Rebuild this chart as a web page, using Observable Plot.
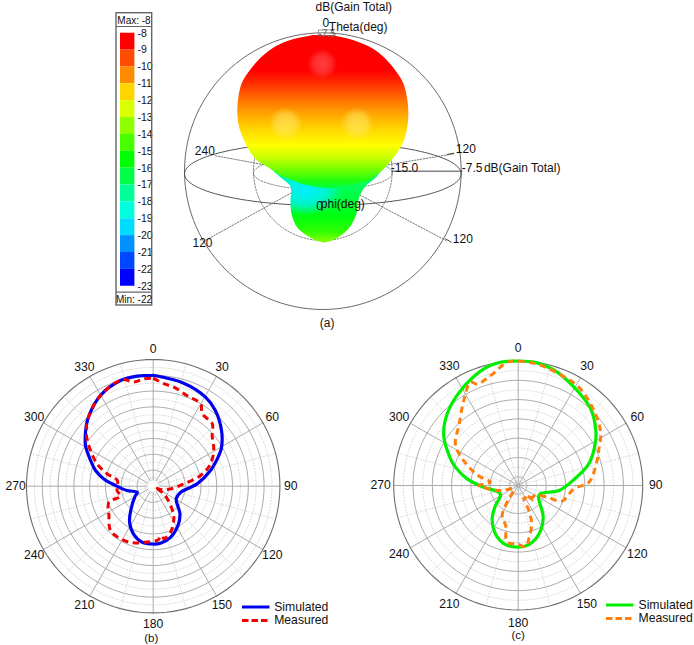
<!DOCTYPE html>
<html><head><meta charset="utf-8">
<script src="https://cdn.jsdelivr.net/npm/d3@7"></script>
<script src="https://cdn.jsdelivr.net/npm/@observablehq/plot@0.6"></script>
<style>
html,body{margin:0;padding:0;background:#fff;width:694px;height:645px;overflow:hidden;font-family:"Liberation Sans",Arial,sans-serif}
.p{position:absolute}
svg{overflow:visible;background:transparent}
.lg{position:absolute;font-size:12.2px;color:#111;line-height:14px;white-space:nowrap}
.lg svg{position:absolute;left:0;top:0}
.lg span{position:absolute;top:0}
</style></head><body>
<div id="bar" class="p" style="left:100px;top:0"></div>
<div id="a" class="p" style="left:0;top:0"></div>
<div id="b" class="p" style="left:0;top:335px"></div>
<div id="c" class="p" style="left:350px;top:335px"></div>
<script>
// ---------- colour bar ----------
const barValues = [-8,-9,-10,-11,-12,-13,-14,-15,-16,-17,-18,-19,-20,-21,-22];
const barColors = ["#ff0000","#ff4c00","#ff8c00","#ffd500","#d9ff00","#8cff00","#48ff00","#00ff00","#00ff48","#00ff96","#00ffdc","#00dcff","#0090ff","#0048ff","#0000ff"];
const barTicks = [-8,-9,-10,-11,-12,-13,-14,-15,-16,-17,-18,-19,-20,-21,-22,-23];

// ---------- 3D lobe outline (rows: level, left, right) ----------
const upperLevel = [105,115,130,150,180,210,250,300,340,380,420,450,480,510,525,540,555,565];
const upperLeft  = [640,590,545,510,475,450,425,414,412,417,432,447,470,518,540,575,620,680];
const upperRight = [695,740,785,825,860,885,910,922,925,922,912,897,875,848,828,808,750,690];
const lowerLevel = [505,535,560,600,640,680,705,720,728];
const lowerLeft  = [510,545,572,572,574,590,618,645,672];
const lowerRight = [850,825,795,775,770,750,725,700,672];

// ---------- polar panel (b) ----------
const bSimAngle = [0,16.5,30.4,39.4,50.8,60.6,65,74.7,87,102.4,118.7,136,147.8,161.3,172.7,180,191,201.8,213.4,224,242,249,260.6,271,278.4,285.2,292.3,301,308.6,315.9,329.8,342.8,351.7,360];
const bSimDb    = [-5,-6.1,-7.4,-9.1,-12.2,-15.3,-17.2,-21.3,-26.2,-31.2,-31.8,-27.9,-25.4,-23,-21.9,-21.8,-22,-23.6,-26.5,-30,-33.7,-34.7,-31.7,-28.2,-24.3,-21.2,-18.7,-15.1,-12.7,-10.4,-6.9,-5.1,-4.9,-5];
const bMeaAngle = [0,6,11.8,20.6,29.9,34.1,43.4,49.3,58.4,68.7,77.3,85.6,98.7,114,120,125.7,138,146.3,159.4,168.6,169.7,175.8,189.5,200.3,211.8,223.9,236.5,250.2,253,263.1,279,285,291.7,299.6,307.2,315.9,329.8,343.8,349.5,355,360];
const bMeaDb    = [-5.9,-7.5,-8.1,-9.5,-10,-12.4,-12.9,-15.5,-17.6,-20.6,-24.7,-30.4,-34.5,-37.5,-39.5,-35.9,-31.9,-28.3,-24.5,-23.1,-24.2,-22.9,-22.1,-21,-20.5,-20.6,-23.3,-25.2,-29.3,-28.6,-28.6,-25,-21,-17.3,-13.6,-10.4,-6.9,-5,-6.6,-6,-5.9];

// ---------- polar panel (c) ----------
const cSimAngle = [0,8.8,19,31.8,43.3,53.9,60.7,72.9,83.3,97,110,119.4,141.7,156.8,169.8,180,192.1,205.1,218,228.6,240.5,251,267.2,277.4,286.3,291.5,303.9,315.3,328.7,343.6,351.8,360];
const cSimDb    = [0,-0.1,-1.2,-3.3,-4.9,-7.4,-9.3,-13.1,-17.5,-21.6,-26.1,-26.2,-21.8,-18.6,-16.7,-16.3,-16.6,-18.4,-21.3,-24.4,-27,-26.9,-23.3,-18.9,-15.3,-13.4,-9,-6.1,-3.5,-0.75,0,0];
const cMeaAngle = [0,8.9,19.1,30.5,43.4,57,66.5,72.4,87.3,93.4,109.6,111.9,120,135.8,138,135.7,155.3,156.9,160.8,168.7,173.1,181,191,197.6,208,214.6,232,254,270,276.9,284,295.5,303.6,315.3,327.4,335.2,338,345.9,354.9,360];
const cMeaDb    = [0,-0.4,-1.4,-2.2,-4.3,-6.8,-9.5,-10.8,-13.9,-17.8,-20.2,-24.2,-27.1,-27.7,-28.8,-27.1,-28.7,-25.2,-21.7,-18.2,-16.3,-17.1,-17.3,-21.4,-23.4,-27.5,-30.8,-27.5,-22,-25,-21.5,-16.2,-12.7,-10.4,-6.1,-2.8,-3.9,-2.9,-0.2,0];

const spokeAngles = [0,30,60,90,120,150,180,210,240,270,300,330];
const minorSpokes = [15,45,75,105,135,165,195,225,255,285,315,345];
const FONT = "Liberation Sans";

function polarPanel({el, W, H, cx, cy, k, floor, rings, minorRings, hole, simA, simD, simC, meaA, meaD, meaC, caption, capX, capY}) {
  const pt = (a, d) => ({x: Math.sin(a * Math.PI / 180) * (d - floor), y: Math.cos(a * Math.PI / 180) * (d - floor)});
  const circle = (d) => d3.range(0, 361, 3).map(a => ({...pt(a, d), ring: d}));
  const spoke = (a, inner) => [{...pt(a, inner), a}, {...pt(a, 0), a}];
  const innerDb = floor + hole / k;
  const simData = simA.map((a, i) => pt(a, simD[i]));
  const meaData = meaA.map((a, i) => pt(a, meaD[i]));
  const labelR = 137.5 / k + floor;
  const plot = Plot.plot({
    width: W, height: H, margin: 0, axis: null,
    style: {fontFamily: FONT, background: "transparent"},
    x: {domain: [-cx / k, (W - cx) / k], range: [0, W]},
    y: {domain: [-(H - cy) / k, cy / k], range: [H, 0]},
    marks: [
      Plot.line(minorRings.flatMap(circle), {x: "x", y: "y", z: "ring", stroke: "#cfcfcf", strokeWidth: 0.8, strokeDasharray: "1,2"}),
      Plot.line(minorSpokes.flatMap(a => spoke(a, innerDb)), {x: "x", y: "y", z: "a", stroke: "#cfcfcf", strokeWidth: 0.8, strokeDasharray: "1,2"}),
      Plot.line(rings.flatMap(circle), {x: "x", y: "y", z: "ring", stroke: "#ababab", strokeWidth: 1}),
      Plot.line(spokeAngles.flatMap(a => spoke(a, innerDb)), {x: "x", y: "y", z: "a", stroke: "#ababab", strokeWidth: 1}),
      Plot.line(circle(0), {x: "x", y: "y", stroke: "#6e6e6e", strokeWidth: 1.1}),
      Plot.line(simData, {x: "x", y: "y", stroke: simC, strokeWidth: 3.2, curve: "catmull-rom"}),
      Plot.line(meaData, {x: "x", y: "y", stroke: meaC, strokeWidth: 3, strokeDasharray: "6.5,4.5", curve: "catmull-rom", strokeLinecap: "butt"}),
      Plot.text(spokeAngles, {x: a => pt(a, labelR).x, y: a => pt(a, labelR).y, text: d => String(d), fontSize: 12.2, fill: "#111"}),
      Plot.text([caption], {x: [(capX - cx) / k], y: [(cy - capY) / k], text: d => d, fontSize: 11.5, fill: "#111"})
    ]
  });
  document.getElementById(el).append(plot);
}

polarPanel({el: "b", W: 345, H: 310, cx: 152.7, cy: 150.7, k: 3.16, floor: -40.1,
  rings: [-5,-10,-15,-20,-25,-30,-35], minorRings: [-2.5,-7.5,-12.5,-17.5,-22.5,-27.5,-32.5,-37.5], hole: 6,
  simA: bSimAngle, simD: bSimDb, simC: "#0000f0", meaA: bMeaAngle, meaD: bMeaDb, meaC: "#f00000",
  caption: "(b)", capX: 150.7, capY: 303});
polarPanel({el: "c", W: 344, H: 310, cx: 167.7, cy: 150, k: 3.86, floor: -32.25,
  rings: [-5,-10,-15,-20,-25,-30], minorRings: [-2.5,-7.5,-12.5,-17.5,-22.5,-27.5], hole: 1,
  simA: cSimAngle, simD: cSimDb, simC: "#00ee00", meaA: cMeaAngle, meaD: cMeaDb, meaC: "#ff7f0e",
  caption: "(c)", capX: 167.7, capY: 300});

// ---------- colour bar plot ----------
{
  const k = 16.87, top = -8 + 32.7 / k, W = 60, H = 320;
  const yOf = (px) => -8 - (px - 32.7) / k;
  const bar = Plot.plot({
    width: W, height: H, margin: 0, axis: null,
    style: {fontFamily: FONT, background: "transparent"},
    x: {domain: [0, W], range: [0, W]},
    y: {domain: [top, yOf(H)], range: [0, H]},
    color: {type: "identity"},
    marks: [
      Plot.rect(barValues, {x1: 20, x2: 34.4, y1: d => d, y2: d => d - 1, fill: (d, i) => barColors[i], inset: 0}),
      Plot.text(barTicks, {x: 37, y: d => d, text: String, textAnchor: "start", fontSize: 10.5, fill: "#111"}),
      Plot.rect([0], {x1: 16, x2: 51.7, y1: yOf(12.7), y2: yOf(305), fill: "none", stroke: "#666", strokeWidth: 1.4}),
      Plot.ruleY([yOf(26), yOf(291.7)], {x1: 16, x2: 51.7, stroke: "#666", strokeWidth: 1.2}),
      Plot.text(["Max: -8"], {x: [33.5], y: [yOf(20)], text: d => d, fontSize: 10, fill: "#111"}),
      Plot.text(["Min: -22"], {x: [33.5], y: [yOf(299)], text: d => d, fontSize: 10, fill: "#111"})
    ]
  });
  document.getElementById("bar").append(bar);
}

// ---------- 3D panel ----------
{
  const rows = (lv, l, r) => lv.map((y, i) => ({y, x1: l[i], x2: r[i]}));
  const ell = (cx, cy, rx, ry, name) => d3.range(0, 361, 3).map(a => ({name, x: cx + rx * Math.cos(a * Math.PI / 180), y: cy + ry * Math.sin(a * Math.PI / 180)}));
  const cx = 667, cy = 512, R = 415;
  const defs = () => {
    const s = d3.create("svg:defs");
    const lin = (id, stops) => {
      const g = s.append("linearGradient").attr("id", id).attr("x1", 0).attr("x2", 0).attr("y1", 0).attr("y2", 1);
      stops.forEach(([o, c]) => g.append("stop").attr("offset", o).attr("stop-color", c));
    };
    const rad = (id, color, cxF, cyF, rF, op) => {
      const g = s.append("radialGradient").attr("id", id).attr("cx", cxF).attr("cy", cyF).attr("r", rF);
      g.append("stop").attr("offset", 0).attr("stop-color", color).attr("stop-opacity", op);
      g.append("stop").attr("offset", 0.55).attr("stop-color", color).attr("stop-opacity", op * 0.75);
      g.append("stop").attr("offset", 1).attr("stop-color", color).attr("stop-opacity", 0);
    };
    lin("upperGrad", [[0, "#ff0000"], [0.23, "#ff0000"], [0.32, "#ff3000"], [0.42, "#ff7000"], [0.52, "#ffa800"], [0.62, "#ffd800"], [0.72, "#ffff00"], [0.8, "#c8ff00"], [0.88, "#70ff00"], [0.95, "#20ff10"], [1, "#00ff40"]]);
    lin("lowerGrad", [[0, "#00ff80"], [0.3, "#00ff50"], [0.65, "#00ff10"], [0.85, "#30ff00"], [1, "#90ff00"]]);
    rad("cyanGlow", "#00f0ff", 0.31, 0.3, 0.33, 1);
    rad("redGlow", "#ff5050", 0.5, 0.5, 0.5, 0.75);
    rad("yellowGlow", "#ffe860", 0.5, 0.5, 0.5, 0.7);
    return s.node();
  };
  const spokes = [
    {name: "s1", x: 667, y: 525}, {name: "s1", x: 340, y: 465},
    {name: "s2", x: 667, y: 525}, {name: "s2", x: 1060, y: 460},
    {name: "s3", x: 667, y: 525}, {name: "s3", x: 305, y: 725},
    {name: "s4", x: 667, y: 525}, {name: "s4", x: 1040, y: 722},
    {name: "s5", x: 655, y: 555}, {name: "s5", x: 645, y: 622}
  ];
  const labels = [
    {t: "dB(Gain Total)", x: 760, y: 20}, {t: "0", x: 676, y: 67}, {t: "Theta(deg)", x: 773, y: 80},
    {t: "240", x: 313, y: 452}, {t: "120", x: 1096, y: 447}, {t: "-15.0", x: 912, y: 502},
    {t: "-7.5", x: 1115, y: 503}, {t: "dB(Gain Total)", x: 1265, y: 502}, {t: "0", x: 657, y: 617},
    {t: "phi(deg)", x: 727, y: 610}, {t: "120", x: 306, y: 728}, {t: "120", x: 1087, y: 717},
    {t: "(a)", x: 680, y: 967}
  ];
  const plot = Plot.plot({
    width: 694, height: 335, margin: 0, axis: null,
    style: {fontFamily: FONT, background: "transparent"},
    x: {domain: [-300, 1782], range: [0, 694]},
    y: {domain: [0, 1005], range: [0, 335]},
    marks: [
      defs,
      Plot.line(ell(cx, 518, 208, 50, "inner"), {x: "x", y: "y", stroke: "#777", strokeWidth: 0.9, strokeDasharray: "1.5,1.5"}),
      Plot.line(ell(cx, cy, 208, 208, "dome"), {x: "x", y: "y", stroke: "#777", strokeWidth: 0.9, strokeDasharray: "1.5,1.5"}),
      Plot.line(spokes, {x: "x", y: "y", z: "name", stroke: "#666", strokeWidth: 0.9, strokeDasharray: "1.5,1.5"}),
      Plot.line(ell(cx, cy, R, R, "sphere"), {x: "x", y: "y", stroke: "#6a6a6a", strokeWidth: 1}),
      Plot.line(ell(cx, 520, R, 95, "equator"), {x: "x", y: "y", stroke: "#555", strokeWidth: 1}),
      Plot.areaX(rows(lowerLevel, lowerLeft, lowerRight), {x1: "x1", x2: "x2", y: "y", fill: "url(#lowerGrad)", curve: "catmull-rom"}),
      Plot.areaX(rows(lowerLevel, lowerLeft, lowerRight), {x1: "x1", x2: "x2", y: "y", fill: "url(#cyanGlow)", curve: "catmull-rom"}),
      Plot.areaX(rows(upperLevel, upperLeft, upperRight), {x1: "x1", x2: "x2", y: "y", fill: "url(#upperGrad)", curve: "catmull-rom"}),
      Plot.dot([{x: 665, y: 190}], {x: "x", y: "y", r: 15, fill: "url(#redGlow)"}),
      Plot.dot([{x: 555, y: 370}, {x: 770, y: 370}], {x: "x", y: "y", r: 17, fill: "url(#yellowGlow)"}),
      Plot.rect([0], {x1: 655, x2: 700, y1: 90, y2: 107, fill: "none", stroke: "#777", strokeWidth: 0.7}),
      Plot.text(["-7.5"], {x: [680], y: [100], text: d => d, fontSize: 10, fill: "#666"}),
      Plot.line([{x: 875, y: 512}, {x: 1085, y: 512}], {x: "x", y: "y", stroke: "#444", strokeWidth: 1}),
      Plot.line([{x: 1040, y: 462}, {x: 1060, y: 458}], {x: "x", y: "y", stroke: "#444", strokeWidth: 1}),
      Plot.line([{x: 1035, y: 715}, {x: 1052, y: 725}], {x: "x", y: "y", stroke: "#444", strokeWidth: 1}),
      Plot.text(labels, {x: "x", y: "y", text: "t", fontSize: 12, fill: "#111"})
    ]
  });
  document.getElementById("a").append(plot);
}

// ---------- legends ----------
function legend(left, top, sim, mea) {
  const d = document.createElement("div");
  d.className = "lg";
  d.style.cssText = `left:${left}px;top:${top}px;width:100px;height:30px`;
  d.innerHTML = `<svg width="30" height="30"><line x1="0" x2="27.5" y1="7" y2="7" stroke="${sim}" stroke-width="3"/><line x1="0" x2="27.5" y1="20.5" y2="20.5" stroke="${mea}" stroke-width="3" stroke-dasharray="6.5,3"/></svg><span style="left:32.5px">Simulated</span><span style="left:32.5px;top:13.5px">Measured</span>`;
  document.body.append(d);
}
legend(241.7, 599.5, "#0000f0", "#f00000");
legend(606, 597.5, "#00ee00", "#ff7f0e");
</script>
</body></html>
